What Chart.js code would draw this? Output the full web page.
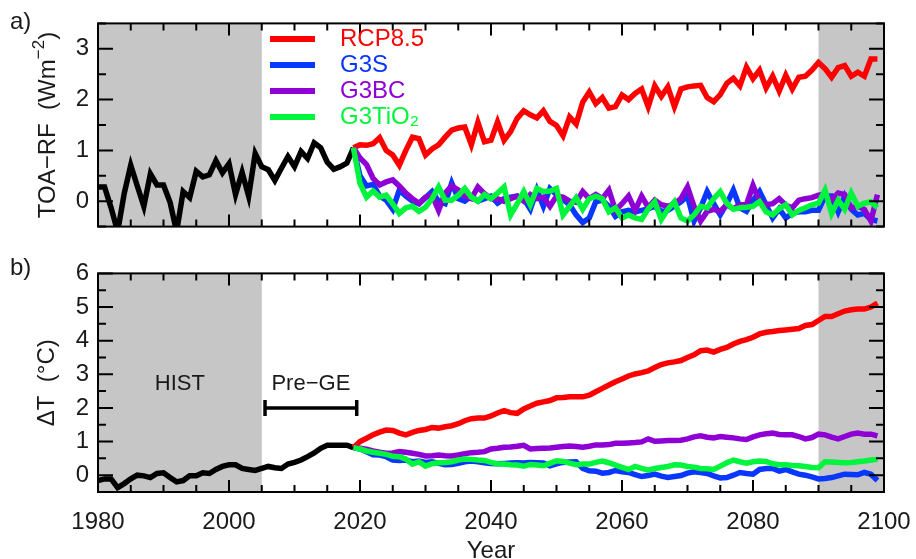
<!DOCTYPE html>
<html>
<head>
<meta charset="utf-8">
<script src="https://cdn.jsdelivr.net/npm/chart.js@4.4.1/dist/chart.umd.min.js"></script>
<style>
  html, body { margin: 0; padding: 0; background: #fff; }
  #wrap { position: relative; width: 916px; height: 559px; }
  #rfChart { position: absolute; left: 0; top: 0; }
  #dtChart { position: absolute; left: 0; top: 250px; }
</style>
</head>
<body>
<div id="wrap">
  <canvas id="rfChart" width="916" height="250"></canvas>
  <canvas id="dtChart" width="916" height="309"></canvas>
</div>
<script>
// years: historical run starts 1980, the experiments branch off in 2019
const histStart = 1980;
const projStart = 2019;
const xTickYears = [1980, 2000, 2020, 2040, 2060, 2080, 2100];
const rfTicks = [0, 1, 2, 3];
const dtTicks = [0, 1, 2, 3, 4, 5, 6];
const seriesNames = ['RCP8.5', 'G3S', 'G3BC', 'G3TiO₂'];
const shadeSpans = [[1980, 2005], [2090, 2100]];
const preGeSpan = [2005.5, 2019.5];

// a) TOA radiative forcing (W m-2)
const rfHist = [
  0.28, 0.28, -0.13, -0.6, 0.15, 0.71, 0.3, -0.1, 0.54, 0.32,
  0.32, -0.02, -0.6, 0.19, 0.07, 0.59, 0.48, 0.52, 0.8, 0.56,
  0.74, 0.13, 0.57, 0.1, 0.94, 0.68, 0.62, 0.41, 0.65, 0.88,
  0.68, 0.98, 0.84, 1.15, 1.05, 0.77, 0.63, 0.68, 0.75, 1.05
];
const rfRcp85 = [1.05,
  1.11, 1.1, 1.13, 1.25, 1.0, 0.91, 0.71, 1.0, 1.26, 1.23,
  0.91, 1.03, 1.11, 1.26, 1.4, 1.44, 1.46, 1.11, 1.55, 1.17,
  1.2, 1.56, 1.2, 1.37, 1.63, 1.78, 1.7, 1.64, 1.78, 1.57,
  1.49, 1.29, 1.66, 1.52, 1.95, 2.15, 1.92, 2.04, 1.83, 1.86,
  2.09, 2.0, 2.12, 2.21, 1.86, 2.27, 2.06, 2.25, 1.86, 2.21,
  2.25, 2.27, 2.28, 2.04, 1.96, 2.1, 2.32, 2.42, 2.27, 2.64,
  2.41, 2.58, 2.23, 2.46, 2.17, 2.48, 2.21, 2.44, 2.46, 2.58,
  2.73, 2.61, 2.44, 2.63, 2.67, 2.46, 2.54, 2.46, 2.8, 2.8
];
const rfG3S = [1.05,
  0.5, 0.3, 0.33, 0.1, 0.02, -0.16, 0.22, 0.1, 0.0, -0.05,
  0.07, 0.19, 0.0, -0.05, 0.36, 0.05, 0.0, 0.1, 0.0, 0.05,
  0.1, -0.04, 0.05, 0.08, 0.1, 0.05, -0.16, 0.22, -0.1, 0.25,
  0.13, 0.03, -0.07, -0.27, -0.42, -0.33, -0.01, 0.02, -0.1, -0.3,
  -0.21, -0.18, -0.21, -0.18, -0.15, -0.1, -0.2, -0.18, -0.1, -0.01,
  0.1, -0.39, -0.13, 0.19, -0.05, -0.27, -0.05, 0.22, -0.13, -0.2,
  0.02, 0.19, -0.07, -0.33, -0.15, -0.33, -0.24, -0.21, -0.21, -0.18,
  -0.18, 0.1, 0.1, -0.21, 0.1, -0.16, -0.27, -0.24, -0.36, -0.39
];
const rfG3BC = [1.05,
  0.85, 0.72, 0.45, 0.32, 0.38, 0.42, 0.3, 0.16, 0.05, -0.04,
  0.08, 0.12, -0.18, 0.16, 0.3, 0.22, 0.1, 0.05, 0.28, 0.15,
  0.05, 0.05, 0.0, 0.05, 0.1, 0.0, 0.13, 0.05, 0.08, -0.1,
  0.1, 0.08, 0.0, -0.02, 0.19, 0.05, 0.13, 0.05, 0.22, -0.18,
  -0.05, 0.1, -0.18, 0.1, -0.12, 0.02, -0.07, -0.1, -0.05, 0.05,
  0.28, -0.1, -0.39, -0.2, -0.16, -0.2, -0.07, -0.15, -0.07, -0.07,
  0.31, -0.01, -0.07, -0.05, 0.05, -0.08, -0.13, 0.02, 0.05, 0.07,
  0.12, 0.14, 0.02, 0.16, 0.13, -0.13, -0.1, -0.16, -0.39, 0.13
];
const rfG3TiO2 = [1.05,
  0.35, 0.08, 0.2, 0.08, 0.12, -0.05, -0.24, -0.13, -0.1, -0.2,
  -0.12, 0.05, 0.28, 0.02, 0.02, 0.12, 0.25, 0.08, 0.0, 0.13,
  0.05, 0.16, 0.28, -0.27, -0.05, 0.19, -0.07, 0.25, 0.19, 0.2,
  0.25, -0.27, -0.1, 0.07, -0.16, 0.05, 0.1, 0.05, -0.21, -0.13,
  -0.33, -0.27, -0.33, -0.36, -0.15, -0.01, -0.36, -0.16, -0.01, -0.33,
  -0.39, -0.27, -0.1, -0.13, 0.05, 0.19, -0.04, -0.16, -0.13, -0.12,
  -0.1, -0.01, -0.21, -0.27, -0.15, -0.07, -0.27, -0.18, -0.13, -0.07,
  -0.04, 0.22, -0.24, 0.02, -0.16, 0.16, -0.1, -0.04, -0.01, -0.13
];

// b) surface temperature change (deg C)
const dtHist = [
  -0.16, -0.11, -0.11, -0.37, -0.25, -0.11, 0.0, -0.02, -0.07, 0.05,
  0.07, -0.07, -0.2, -0.16, -0.02, -0.02, 0.07, 0.05, 0.17, 0.26,
  0.31, 0.31, 0.2, 0.17, 0.14, 0.2, 0.26, 0.22, 0.2, 0.33,
  0.38, 0.45, 0.55, 0.66, 0.8, 0.89, 0.89, 0.89, 0.89, 0.82
];
const dtRcp85 = [0.82,
  1.0, 1.1, 1.2, 1.28, 1.34, 1.33, 1.25, 1.2, 1.27, 1.33,
  1.36, 1.42, 1.4, 1.44, 1.47, 1.53, 1.62, 1.68, 1.7, 1.7,
  1.76, 1.85, 1.92, 1.86, 1.84, 1.97, 2.06, 2.14, 2.18, 2.22,
  2.3, 2.31, 2.33, 2.33, 2.33, 2.38, 2.48, 2.58, 2.68, 2.78,
  2.86, 2.95, 3.01, 3.05, 3.1, 3.2, 3.29, 3.34, 3.37, 3.41,
  3.5, 3.58, 3.7, 3.72, 3.66, 3.74, 3.8, 3.9, 3.98, 4.03,
  4.1, 4.2, 4.25, 4.27, 4.3, 4.32, 4.34, 4.36, 4.45, 4.48,
  4.6, 4.72, 4.72, 4.8, 4.88, 4.92, 4.94, 4.94, 5.0, 5.12
];
const dtG3S = [0.82,
  0.78, 0.7, 0.61, 0.6, 0.55, 0.45, 0.44, 0.45, 0.4, 0.42,
  0.38, 0.4, 0.35, 0.31, 0.32, 0.35, 0.4, 0.42, 0.4, 0.37,
  0.35, 0.34, 0.35, 0.36, 0.37, 0.36, 0.38, 0.37, 0.36, 0.28,
  0.34, 0.38, 0.39, 0.4, 0.2, 0.13, 0.12, 0.06, 0.08, 0.14,
  0.1, 0.08, 0.02, -0.04, -0.01, 0.03, -0.03, -0.07, -0.04, -0.01,
  0.06, 0.1, 0.08, 0.05, -0.02, -0.08, -0.07, 0.0, 0.08, 0.05,
  0.03, 0.17, 0.2, 0.2, 0.12, 0.17, 0.1, 0.03, 0.0, -0.05,
  -0.11, -0.1, -0.07, -0.02, 0.03, 0.02, 0.01, 0.08, 0.03, -0.16
];
const dtG3BC = [0.82,
  0.8, 0.77, 0.72, 0.68, 0.65, 0.66, 0.7, 0.68, 0.65, 0.62,
  0.57, 0.58, 0.6, 0.58, 0.57, 0.6, 0.64, 0.67, 0.68, 0.7,
  0.78, 0.8, 0.83, 0.84, 0.86, 0.89, 0.78, 0.79, 0.8, 0.81,
  0.83, 0.85, 0.87, 0.85, 0.83, 0.86, 0.9, 0.9, 0.91, 0.95,
  0.95, 0.96, 0.97, 0.99, 1.08, 1.01, 1.02, 1.03, 1.03, 1.04,
  1.08, 1.14, 1.17, 1.13, 1.11, 1.15, 1.13, 1.11, 1.08, 1.06,
  1.14, 1.2, 1.23, 1.25, 1.21, 1.2, 1.2, 1.15, 1.08, 1.12,
  1.22, 1.2, 1.13, 1.08, 1.15, 1.22, 1.25, 1.22, 1.22, 1.17
];
const dtG3TiO2 = [0.82,
  0.78, 0.72, 0.68, 0.65, 0.62, 0.56, 0.55, 0.48, 0.33, 0.4,
  0.27, 0.34, 0.37, 0.38, 0.4, 0.45, 0.48, 0.47, 0.45, 0.44,
  0.38, 0.34, 0.33, 0.31, 0.3, 0.27, 0.32, 0.3, 0.28, 0.35,
  0.43, 0.41, 0.36, 0.31, 0.33, 0.33, 0.38, 0.42, 0.37, 0.3,
  0.23, 0.17, 0.26, 0.2, 0.15, 0.2, 0.23, 0.26, 0.31, 0.3,
  0.26, 0.24, 0.2, 0.19, 0.17, 0.27, 0.37, 0.45, 0.4, 0.36,
  0.4, 0.42, 0.41, 0.34, 0.31, 0.31, 0.29, 0.28, 0.26, 0.23,
  0.22, 0.4, 0.39, 0.38, 0.37, 0.38, 0.4, 0.42, 0.45, 0.47
];

const colors = ['#ff0000', '#0a37ff', '#8e00d4', '#00f53c'];
const histColor = '#000000';
const shadeColor = '#c6c6c6';
const inkColor = '#1a1a1a';
const FONT = "'Liberation Sans', 'DejaVu Sans', sans-serif";

function toPoints(start, vals) {
  return vals.map((v, i) => ({ x: start + i, y: v }));
}

function makeDatasets(hist, rcp, s, bc, ti) {
  const line = (label, start, vals, color, order) => ({
    label: label,
    data: toPoints(start, vals),
    borderColor: color,
    backgroundColor: color,
    borderWidth: 5.5,
    borderJoinStyle: 'miter',
    pointRadius: 0,
    tension: 0,
    fill: false,
    clip: 0,
    order: order
  });
  return [
    line('HIST', histStart, hist, histColor, 5),
    line(seriesNames[0], projStart, rcp, colors[0], 4),
    line(seriesNames[1], projStart, s, colors[1], 3),
    line(seriesNames[2], projStart, bc, colors[2], 2),
    line(seriesNames[3], projStart, ti, colors[3], 1)
  ];
}

function drawRotated(ctx, cx, cy, parts) {
  ctx.save();
  ctx.translate(cx, cy);
  ctx.rotate(-Math.PI / 2);
  ctx.textAlign = 'left';
  ctx.textBaseline = 'middle';
  let total = 0;
  parts.forEach(p => { ctx.font = p.font; p.w = ctx.measureText(p.text).width; total += p.w; });
  let xx = -total / 2;
  parts.forEach(p => {
    ctx.font = p.font;
    ctx.fillText(p.text, xx, p.dy || 0);
    xx += p.w;
  });
  ctx.restore();
}

const decor = {
  id: 'decor',
  beforeDatasetsDraw(chart) {
    const { ctx, chartArea: a, scales: { x } } = chart;
    ctx.save();
    ctx.fillStyle = shadeColor;
    shadeSpans.forEach(([s, e]) => {
      const x0 = x.getPixelForValue(s), x1 = x.getPixelForValue(e);
      ctx.fillRect(x0, a.top, x1 - x0, a.bottom - a.top);
    });
    ctx.restore();
  },
  afterDatasetsDraw(chart, args, opts) {
    const { ctx, chartArea: a, scales: { x, y } } = chart;
    ctx.save();
    // inward ticks on all four sides, IDL style
    ctx.strokeStyle = '#000';
    ctx.lineWidth = 2;
    ctx.beginPath();
    for (let v = x.min; v <= x.max; v += 5) {
      const px = x.getPixelForValue(v);
      const len = v % 20 === 0 ? 12 : 7;
      ctx.moveTo(px, a.bottom); ctx.lineTo(px, a.bottom - len);
      ctx.moveTo(px, a.top); ctx.lineTo(px, a.top + len);
    }
    for (let v = y.min; v <= y.max + 1e-9; v += 0.5) {
      const py = y.getPixelForValue(v);
      const len = Number.isInteger(v) ? 15 : 8;
      ctx.moveTo(a.left, py); ctx.lineTo(a.left + len, py);
      ctx.moveTo(a.right, py); ctx.lineTo(a.right - len, py);
    }
    ctx.stroke();
    ctx.strokeRect(a.left, a.top, a.right - a.left, a.bottom - a.top);

    ctx.fillStyle = inkColor;
    ctx.font = '24px ' + FONT;
    ctx.textAlign = 'left';
    ctx.textBaseline = 'middle';
    const midY = (a.top + a.bottom) / 2;

    if (opts.panel === 'a') {
      ctx.fillText('a)', 10, 22);
      drawRotated(ctx, 48, midY, [
        { text: 'TOA−RF  (Wm', font: '24px ' + FONT },
        { text: '−2', font: '17px ' + FONT, dy: -9 },
        { text: ')', font: '24px ' + FONT }
      ]);
      // legend
      seriesNames.forEach((name, i) => {
        const ly = 39 + i * 26;
        ctx.strokeStyle = colors[i];
        ctx.lineWidth = 6;
        ctx.beginPath();
        ctx.moveTo(270, ly); ctx.lineTo(315, ly);
        ctx.stroke();
        ctx.fillStyle = colors[i];
        ctx.font = '24px ' + FONT;
        ctx.fillText(name, 340, ly);
      });
    } else {
      ctx.fillText('b)', 10, 18);
      drawRotated(ctx, 47, midY, [
        { text: 'ΔT  (°C)', font: '24px ' + FONT }
      ]);
      ctx.font = '22px ' + FONT;
      ctx.textAlign = 'center';
      ctx.fillText('HIST', x.getPixelForValue(1992.5), y.getPixelForValue(2.7));
      const gx0 = x.getPixelForValue(preGeSpan[0]);
      const gx1 = x.getPixelForValue(preGeSpan[1]);
      const gy = y.getPixelForValue(2);
      ctx.fillText('Pre−GE', (gx0 + gx1) / 2, y.getPixelForValue(2.7));
      ctx.strokeStyle = '#000';
      ctx.lineWidth = 3.5;
      ctx.beginPath();
      ctx.moveTo(gx0, gy); ctx.lineTo(gx1, gy);
      ctx.moveTo(gx0, gy - 8); ctx.lineTo(gx0, gy + 8);
      ctx.moveTo(gx1, gy - 8); ctx.lineTo(gx1, gy + 8);
      ctx.stroke();
      ctx.font = '24px ' + FONT;
      ctx.textBaseline = 'alphabetic';
      ctx.fillText('Year', (a.left + a.right) / 2, 308);
    }
    ctx.restore();
  }
};

function yAxis(min, max, tickValues) {
  return {
    min: min,
    max: max,
    afterFit(scale) { scale.width = 98; },
    afterBuildTicks(scale) { scale.ticks = tickValues.map(v => ({ value: v })); },
    grid: { display: false, drawTicks: false },
    border: { display: false },
    ticks: {
      autoSkip: false,
      padding: 9,
      color: inkColor,
      font: { family: FONT, size: 24 },
      callback: v => String(v)
    }
  };
}

function baseOptions(panel, yMin, yMax, tickValues, showX) {
  return {
    responsive: false,
    animation: false,
    events: [],
    layout: { padding: panel === 'a'
      ? { top: 14, right: 32, bottom: 5, left: 0 }
      : { top: 11, right: 32, bottom: 0, left: 0 } },
    scales: {
      x: {
        type: 'linear',
        min: 1980,
        max: 2100,
        display: showX,
        afterFit(scale) {
          if (showX) scale.height = 67;
          scale.paddingLeft = 0;
          scale.paddingRight = 0;
        },
        afterBuildTicks(scale) { scale.ticks = xTickYears.map(v => ({ value: v })); },
        grid: { display: false, drawTicks: false },
        border: { display: false },
        ticks: {
          padding: 16,
          maxRotation: 0,
          autoSkip: false,
          color: inkColor,
          font: { family: FONT, size: 24 },
          callback: v => String(v)
        }
      },
      y: yAxis(yMin, yMax, tickValues)
    },
    plugins: {
      legend: { display: false },
      tooltip: { enabled: false },
      decor: { panel: panel }
    }
  };
}

new Chart(document.getElementById('rfChart'), {
  type: 'line',
  data: { datasets: makeDatasets(rfHist, rfRcp85, rfG3S, rfG3BC, rfG3TiO2) },
  options: baseOptions('a', -0.5, 3.5, rfTicks, false),
  plugins: [decor]
});

new Chart(document.getElementById('dtChart'), {
  type: 'line',
  data: { datasets: makeDatasets(dtHist, dtRcp85, dtG3S, dtG3BC, dtG3TiO2) },
  options: baseOptions('b', -0.5, 6, dtTicks, true),
  plugins: [decor]
});
</script>
</body>
</html>
